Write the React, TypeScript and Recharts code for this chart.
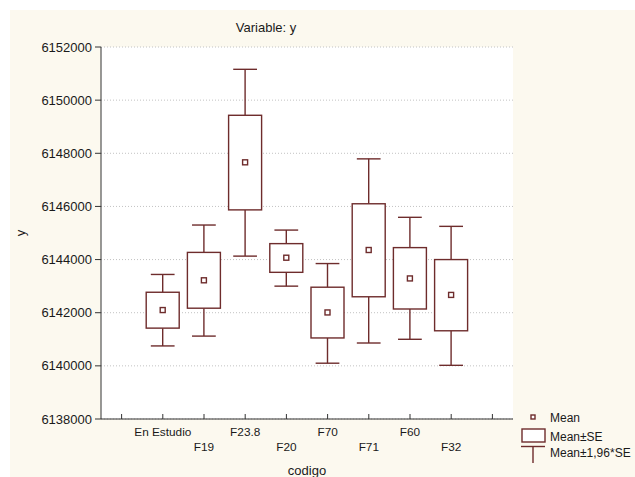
import React from "react";
import {
  ComposedChart,
  Bar,
  XAxis,
  YAxis,
  CartesianGrid,
  Label,
} from "recharts";

// groups on the x axis (the outer empty slots are padding, as in the original)
const groups = ["En Estudio", "F19", "F23.8", "F20", "F70", "F71", "F60", "F32"];
const means = [6142100, 6143220, 6147660, 6144070, 6142010, 6144360, 6143290, 6142670];
const seLow = [6141420, 6142170, 6145870, 6143520, 6141050, 6142600, 6142140, 6141320];
const seHigh = [6142770, 6144270, 6149430, 6144600, 6142960, 6146100, 6144450, 6144000];
const ciLow = [6140750, 6141120, 6144130, 6143000, 6140100, 6140860, 6141000, 6140020];
const ciHigh = [6143440, 6145300, 6151160, 6145110, 6143850, 6147790, 6145590, 6145250];
const yTicks = [6138000, 6140000, 6142000, 6144000, 6146000, 6148000, 6150000, 6152000];

const blank = { codigo: "", mean: null, seLow: null, seHigh: null, ciLow: null, ciHigh: null };
const data = [
  blank,
  ...groups.map((g, i) => ({
    codigo: g,
    mean: means[i],
    seLow: seLow[i],
    seHigh: seHigh[i],
    ciLow: ciLow[i],
    ciHigh: ciHigh[i],
  })),
  { ...blank },
];

const LINE = "#6e2c2c";
const AXIS = "#333333";
const FONT = "'Liberation Sans', Arial, sans-serif";

const BoxShape = (props: any) => {
  const { x, y, width, height, payload } = props;
  if (payload == null || payload.mean == null) return null;
  const top = Math.min(y, y + height);
  const h = Math.abs(height);
  const hi = payload.ciHigh;
  const lo = payload.ciLow;
  const py = (v: number) => top + ((hi - v) / (hi - lo)) * h;
  const cx = x + width / 2;
  const cap = width * 0.36;
  const yHi = py(hi);
  const yLo = py(lo);
  const ySeHi = py(payload.seHigh);
  const ySeLo = py(payload.seLow);
  const yMean = py(payload.mean);
  return (
    <g stroke={LINE} strokeWidth={1.4} fill="none">
      <line x1={cx} x2={cx} y1={yHi} y2={ySeHi} />
      <line x1={cx} x2={cx} y1={ySeLo} y2={yLo} />
      <line x1={cx - cap} x2={cx + cap} y1={yHi} y2={yHi} />
      <line x1={cx - cap} x2={cx + cap} y1={yLo} y2={yLo} />
      <rect x={x} y={ySeHi} width={width} height={ySeLo - ySeHi} fill="#ffffff" />
      <rect x={cx - 2.5} y={yMean - 2.5} width={5} height={5} fill="#ffffff" />
    </g>
  );
};

const BottomTick = (props: any) => {
  const { x, y, payload, index } = props;
  const row = index % 2 === 1 ? 17 : 32;
  return (
    <g>
      <line x1={x} x2={x} y1={y} y2={y - 5} stroke={AXIS} />
      <text
        x={x}
        y={y + row}
        textAnchor="middle"
        fontSize={11.8}
        fontFamily={FONT}
        fill="#1a1a1a"
      >
        {payload.value}
      </text>
    </g>
  );
};

const TopTick = (props: any) => {
  const { x, y } = props;
  return <line x1={x} x2={x} y1={y} y2={y + 5} stroke={AXIS} />;
};

const RightTick = (props: any) => {
  const { x, y } = props;
  return <line x1={x} x2={x - 5} y1={y} y2={y} stroke={AXIS} />;
};

export default function App() {
  return (
    <div
      style={{
        position: "absolute",
        left: 0,
        top: 0,
        width: 635,
        height: 477,
        background: "#ffffff",
        overflow: "hidden",
      }}
    >
      <div
        style={{
          position: "absolute",
          left: 10,
          top: 10,
          width: 625,
          height: 467,
          background: "#fcf9ef",
        }}
      />
      <div style={{ position: "absolute", left: 0, top: 0 }}>
        <ComposedChart
          width={635}
          height={477}
          data={data}
          margin={{ top: 47, right: 122, bottom: 0, left: 0 }}
          barSize={33}
        >
          <CartesianGrid
            horizontal
            vertical={false}
            fill="#ffffff"
            stroke="#c2c2c2"
            strokeDasharray="1 2"
            yAxisId="left"
            xAxisId="bottom"
          />
          <XAxis
            xAxisId="bottom"
            dataKey="codigo"
            type="category"
            interval={0}
            height={58}
            tickSize={0}
            tickMargin={0}
            tickLine={false}
            tick={<BottomTick />}
            stroke={AXIS}
            allowDuplicatedCategory
          >
            <Label
              content={({ viewBox }: any) => (
                <text
                  x={viewBox.x + viewBox.width / 2}
                  y={viewBox.y + 56}
                  textAnchor="middle"
                  fontSize={13}
                  fontFamily={FONT}
                  fill="#1a1a1a"
                >
                  codigo
                </text>
              )}
            />
          </XAxis>
          <XAxis
            xAxisId="top"
            orientation="top"
            dataKey="codigo"
            type="category"
            interval={0}
            height={0}
            tickSize={0}
            tickMargin={0}
            tickLine={false}
            tick={<TopTick />}
            stroke={AXIS}
            allowDuplicatedCategory
          />
          <YAxis
            yAxisId="left"
            width={101}
            domain={[6138000, 6152000]}
            ticks={yTicks}
            interval={0}
            tickSize={6}
            tickMargin={3}
            stroke={AXIS}
            tick={{ fontSize: 13, fontFamily: FONT, fill: "#1a1a1a" }}
          >
            <Label
              content={({ viewBox }: any) => (
                <text
                  x={viewBox.x + 25}
                  y={viewBox.y + viewBox.height / 2}
                  textAnchor="middle"
                  fontSize={13}
                  fontFamily={FONT}
                  fill="#1a1a1a"
                  transform={`rotate(-90 ${viewBox.x + 25} ${viewBox.y + viewBox.height / 2})`}
                >
                  y
                </text>
              )}
            />
          </YAxis>
          <YAxis
            yAxisId="right"
            orientation="right"
            width={0}
            domain={[6138000, 6152000]}
            ticks={yTicks}
            interval={0}
            tickSize={0}
            tickMargin={0}
            tickLine={false}
            tick={<RightTick />}
            stroke={AXIS}
          />
          <Bar
            xAxisId="bottom"
            yAxisId="left"
            dataKey={(d: any) => (d.mean == null ? null : [d.ciLow, d.ciHigh])}
            shape={<BoxShape />}
            isAnimationActive={false}
          />
        </ComposedChart>
      </div>
      <svg
        width={635}
        height={477}
        style={{ position: "absolute", left: 0, top: 0, pointerEvents: "none" }}
      >
        <text x={266} y={32} textAnchor="middle" fontSize={13} fontFamily={FONT} fill="#1a1a1a">
          Variable: y
        </text>
        <g stroke={LINE} strokeWidth={1.4} fill="none">
          <rect x={531} y={415} width={4} height={4} fill="#ffffff" />
          <rect x={522} y={429} width={23} height={13} fill="#ffffff" />
          <line x1={521} x2={545} y1={446.5} y2={446.5} />
          <line x1={533} x2={533} y1={446.5} y2={463} />
        </g>
        <g fontSize={12} fontFamily={FONT} fill="#1a1a1a">
          <text x={550} y={421.5}>Mean</text>
          <text x={550} y={440.5}>Mean±SE</text>
          <text x={550} y={456.5}>Mean±1,96*SE</text>
        </g>
      </svg>
    </div>
  );
}
